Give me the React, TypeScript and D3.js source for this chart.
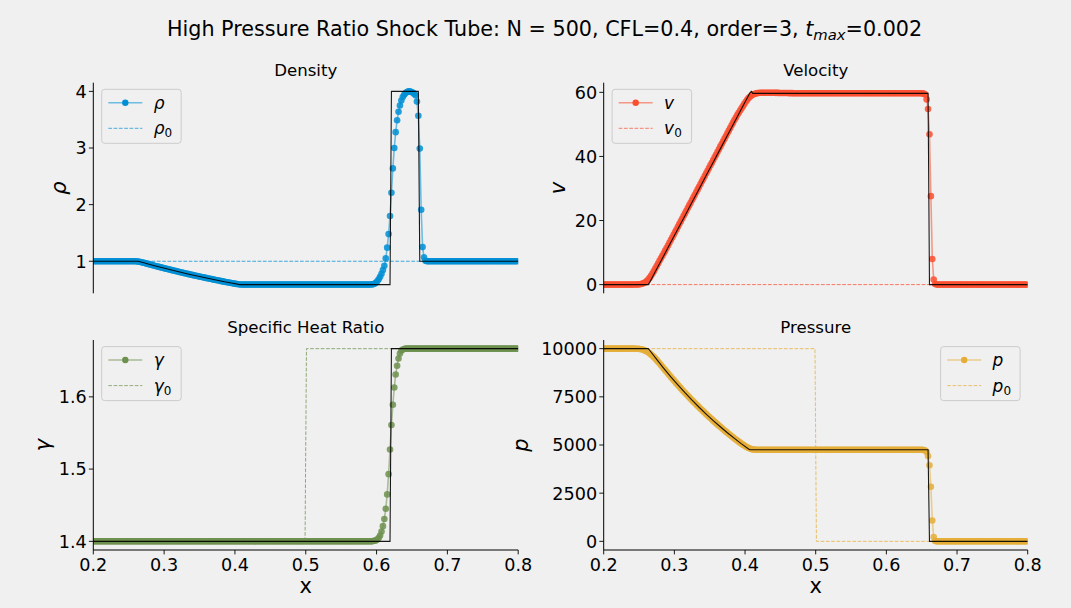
import React from 'react';
import * as d3 from 'd3';

// ---------------------------------------------------------------------------
// Grid: N = 500 cells on [0, 1]; cells 100..399 cover the plotted window.
// ---------------------------------------------------------------------------
const N = 500;
const FIRST_CELL = 100;
const X_RANGE: [number, number] = [0.2, 0.8];
const X_TICKS = [0.2, 0.3, 0.4, 0.5, 0.6, 0.7, 0.8];

// Numerical solution at the cell centres (each row holds 10 cells).
const density = [
  1, 1, 1, 1, 1, 1, 1, 1, 1, 1,
  1, 1, 1, 1, 1, 1, 1, 1, 1, 1,
  1, 1, 1, 1, 1, 1, 1, 1, 1, 0.999,
  0.998, 0.996, 0.992, 0.986, 0.980, 0.973, 0.967, 0.960, 0.953, 0.946,
  0.940, 0.933, 0.926, 0.920, 0.913, 0.906, 0.900, 0.893, 0.887, 0.881,
  0.874, 0.868, 0.862, 0.856, 0.849, 0.843, 0.837, 0.831, 0.825, 0.819,
  0.813, 0.807, 0.801, 0.795, 0.789, 0.784, 0.778, 0.772, 0.766, 0.761,
  0.755, 0.749, 0.744, 0.738, 0.733, 0.727, 0.722, 0.716, 0.711, 0.706,
  0.700, 0.695, 0.690, 0.685, 0.680, 0.674, 0.669, 0.664, 0.659, 0.654,
  0.649, 0.644, 0.639, 0.634, 0.629, 0.625, 0.620, 0.615, 0.610, 0.605,
  0.601, 0.597, 0.593, 0.590, 0.589, 0.588, 0.588, 0.588, 0.588, 0.588,
  0.588, 0.588, 0.588, 0.588, 0.588, 0.588, 0.588, 0.588, 0.588, 0.588,
  0.588, 0.588, 0.588, 0.588, 0.588, 0.588, 0.588, 0.588, 0.588, 0.588,
  0.588, 0.588, 0.588, 0.588, 0.588, 0.588, 0.588, 0.588, 0.588, 0.588,
  0.588, 0.588, 0.588, 0.588, 0.588, 0.588, 0.588, 0.588, 0.588, 0.588,
  0.588, 0.588, 0.588, 0.588, 0.588, 0.588, 0.588, 0.588, 0.588, 0.588,
  0.588, 0.588, 0.588, 0.588, 0.588, 0.588, 0.588, 0.588, 0.588, 0.588,
  0.588, 0.588, 0.588, 0.588, 0.588, 0.588, 0.588, 0.588, 0.588, 0.588,
  0.588, 0.588, 0.588, 0.588, 0.588, 0.588, 0.588, 0.588, 0.588, 0.588,
  0.588, 0.588, 0.588, 0.588, 0.588, 0.589, 0.591, 0.595, 0.604, 0.620,
  0.645, 0.680, 0.725, 0.780, 0.845, 0.920, 1.05, 1.24, 1.48, 1.80,
  2.21, 2.64, 3.00, 3.28, 3.49, 3.64, 3.75, 3.84, 3.90, 3.94,
  3.97, 3.99, 4.00, 4.00, 3.99, 3.98, 3.96, 3.93, 3.82, 3.57,
  2.99, 1.91, 1.25, 1.07, 1.01, 1, 1, 1, 1, 1,
  1, 1, 1, 1, 1, 1, 1, 1, 1, 1,
  1, 1, 1, 1, 1, 1, 1, 1, 1, 1,
  1, 1, 1, 1, 1, 1, 1, 1, 1, 1,
  1, 1, 1, 1, 1, 1, 1, 1, 1, 1,
  1, 1, 1, 1, 1, 1, 1, 1, 1, 1,
  1, 1, 1, 1, 1, 1, 1, 1, 1, 1,
];

const velocity = [
  0, 0, 0, 0, 0, 0, 0, 0, 0, 0,
  0, 0, 0, 0, 0, 0, 0, 0, 0, 0,
  0, 0.01, 0.02, 0.04, 0.07, 0.12, 0.2, 0.32, 0.5, 0.75,
  1.1, 1.55, 2.1, 2.75, 3.45, 4.2, 5.0, 5.8, 6.6, 7.45,
  8.2, 9.0, 9.8, 10.6, 11.4, 12.2, 13.05, 13.9, 14.72, 15.55,
  16.39, 17.22, 18.05, 18.89, 19.72, 20.55, 21.39, 22.22, 23.05, 23.89,
  24.72, 25.55, 26.39, 27.22, 28.05, 28.89, 29.72, 30.55, 31.39, 32.22,
  33.05, 33.89, 34.72, 35.55, 36.39, 37.22, 38.05, 38.89, 39.72, 40.55,
  41.39, 42.22, 43.05, 43.89, 44.72, 45.55, 46.39, 47.22, 48.05, 48.89,
  49.72, 50.55, 51.39, 52.1, 52.9, 53.6, 54.3, 55.0, 55.7, 56.4,
  57.05, 57.65, 58.2, 58.65, 59.0, 59.3, 59.5, 59.65, 59.75, 59.82,
  59.86, 59.88, 59.9, 59.9, 59.9, 59.9, 59.9, 59.9, 59.88, 59.88,
  59.86, 59.85, 59.84, 59.83, 59.82, 59.81, 59.8, 59.8, 59.79, 59.78,
  59.77, 59.76, 59.75, 59.75, 59.74, 59.74, 59.73, 59.73, 59.72, 59.72,
  59.7, 59.7, 59.7, 59.7, 59.7, 59.7, 59.7, 59.7, 59.7, 59.7,
  59.7, 59.7, 59.7, 59.7, 59.7, 59.7, 59.7, 59.7, 59.7, 59.7,
  59.7, 59.7, 59.7, 59.7, 59.7, 59.7, 59.7, 59.7, 59.7, 59.7,
  59.7, 59.7, 59.7, 59.7, 59.7, 59.7, 59.7, 59.7, 59.7, 59.7,
  59.7, 59.7, 59.7, 59.7, 59.7, 59.7, 59.7, 59.7, 59.7, 59.7,
  59.7, 59.7, 59.7, 59.7, 59.7, 59.7, 59.7, 59.7, 59.7, 59.7,
  59.7, 59.7, 59.7, 59.7, 59.7, 59.7, 59.7, 59.7, 59.7, 59.7,
  59.7, 59.7, 59.7, 59.7, 59.7, 59.7, 59.7, 59.7, 59.7, 59.7,
  59.7, 59.7, 59.7, 59.7, 59.7, 59.68, 59.6, 59.3, 57.8, 54.8,
  46.9, 27.6, 8.0, 1.6, 0.2, 0, 0, 0, 0, 0,
  0, 0, 0, 0, 0, 0, 0, 0, 0, 0,
  0, 0, 0, 0, 0, 0, 0, 0, 0, 0,
  0, 0, 0, 0, 0, 0, 0, 0, 0, 0,
  0, 0, 0, 0, 0, 0, 0, 0, 0, 0,
  0, 0, 0, 0, 0, 0, 0, 0, 0, 0,
  0, 0, 0, 0, 0, 0, 0, 0, 0, 0,
];

const heatRatio = [
  1.4, 1.4, 1.4, 1.4, 1.4, 1.4, 1.4, 1.4, 1.4, 1.4,
  1.4, 1.4, 1.4, 1.4, 1.4, 1.4, 1.4, 1.4, 1.4, 1.4,
  1.4, 1.4, 1.4, 1.4, 1.4, 1.4, 1.4, 1.4, 1.4, 1.4,
  1.4, 1.4, 1.4, 1.4, 1.4, 1.4, 1.4, 1.4, 1.4, 1.4,
  1.4, 1.4, 1.4, 1.4, 1.4, 1.4, 1.4, 1.4, 1.4, 1.4,
  1.4, 1.4, 1.4, 1.4, 1.4, 1.4, 1.4, 1.4, 1.4, 1.4,
  1.4, 1.4, 1.4, 1.4, 1.4, 1.4, 1.4, 1.4, 1.4, 1.4,
  1.4, 1.4, 1.4, 1.4, 1.4, 1.4, 1.4, 1.4, 1.4, 1.4,
  1.4, 1.4, 1.4, 1.4, 1.4, 1.4, 1.4, 1.4, 1.4, 1.4,
  1.4, 1.4, 1.4, 1.4, 1.4, 1.4, 1.4, 1.4, 1.4, 1.4,
  1.4, 1.4, 1.4, 1.4, 1.4, 1.4, 1.4, 1.4, 1.4, 1.4,
  1.4, 1.4, 1.4, 1.4, 1.4, 1.4, 1.4, 1.4, 1.4, 1.4,
  1.4, 1.4, 1.4, 1.4, 1.4, 1.4, 1.4, 1.4, 1.4, 1.4,
  1.4, 1.4, 1.4, 1.4, 1.4, 1.4, 1.4, 1.4, 1.4, 1.4,
  1.4, 1.4, 1.4, 1.4, 1.4, 1.4, 1.4, 1.4, 1.4, 1.4,
  1.4, 1.4, 1.4, 1.4, 1.4, 1.4, 1.4, 1.4, 1.4, 1.4,
  1.4, 1.4, 1.4, 1.4, 1.4, 1.4, 1.4, 1.4, 1.4, 1.4,
  1.4, 1.4, 1.4, 1.4, 1.4, 1.4, 1.4, 1.4, 1.4, 1.4,
  1.4, 1.4, 1.4, 1.4, 1.4, 1.4, 1.4, 1.4, 1.4, 1.4,
  1.4, 1.4, 1.4, 1.4, 1.4, 1.4, 1.4, 1.4003, 1.4007, 1.4013,
  1.4025, 1.4045, 1.408, 1.4135, 1.421, 1.431, 1.445, 1.465, 1.493, 1.527,
  1.561, 1.589, 1.613, 1.631, 1.643, 1.653, 1.660, 1.664, 1.6655, 1.6662,
  1.6667, 1.6667, 1.6667, 1.6667, 1.6667, 1.6667, 1.6667, 1.6667, 1.6667, 1.6667,
  1.6667, 1.6667, 1.6667, 1.6667, 1.6667, 1.6667, 1.6667, 1.6667, 1.6667, 1.6667,
  1.6667, 1.6667, 1.6667, 1.6667, 1.6667, 1.6667, 1.6667, 1.6667, 1.6667, 1.6667,
  1.6667, 1.6667, 1.6667, 1.6667, 1.6667, 1.6667, 1.6667, 1.6667, 1.6667, 1.6667,
  1.6667, 1.6667, 1.6667, 1.6667, 1.6667, 1.6667, 1.6667, 1.6667, 1.6667, 1.6667,
  1.6667, 1.6667, 1.6667, 1.6667, 1.6667, 1.6667, 1.6667, 1.6667, 1.6667, 1.6667,
  1.6667, 1.6667, 1.6667, 1.6667, 1.6667, 1.6667, 1.6667, 1.6667, 1.6667, 1.6667,
  1.6667, 1.6667, 1.6667, 1.6667, 1.6667, 1.6667, 1.6667, 1.6667, 1.6667, 1.6667,
];

const pressure = [
  10000, 10000, 10000, 10000, 10000, 10000, 10000, 10000, 10000, 10000,
  10000, 10000, 10000, 10000, 10000, 10000, 10000, 10000, 10000, 10000,
  10000, 10000, 9998, 9995, 9990, 9982, 9970, 9952, 9927, 9895,
  9855, 9808, 9755, 9695, 9630, 9560, 9485, 9405, 9322, 9237,
  9150, 9062, 8973, 8885, 8797, 8710, 8622, 8535, 8450, 8366,
  8282, 8198, 8114, 8033, 7952, 7871, 7791, 7710, 7632, 7555,
  7478, 7401, 7324, 7250, 7176, 7102, 7029, 6955, 6884, 6813,
  6743, 6672, 6602, 6534, 6466, 6399, 6331, 6263, 6199, 6134,
  6070, 6005, 5941, 5879, 5817, 5756, 5694, 5632, 5573, 5514,
  5455, 5397, 5339, 5284, 5229, 5175, 5121, 5068, 5017, 4968,
  4922, 4880, 4843, 4812, 4788, 4772, 4762, 4756, 4753, 4751,
  4750, 4750, 4750, 4750, 4750, 4750, 4750, 4750, 4750, 4750,
  4750, 4750, 4750, 4750, 4750, 4750, 4750, 4750, 4750, 4750,
  4750, 4750, 4750, 4750, 4750, 4750, 4750, 4750, 4750, 4750,
  4750, 4750, 4750, 4750, 4750, 4750, 4750, 4750, 4750, 4750,
  4750, 4750, 4750, 4750, 4750, 4750, 4750, 4750, 4750, 4750,
  4750, 4750, 4750, 4750, 4750, 4750, 4750, 4750, 4750, 4750,
  4750, 4750, 4750, 4750, 4750, 4750, 4750, 4750, 4750, 4750,
  4750, 4750, 4750, 4750, 4750, 4750, 4750, 4750, 4750, 4750,
  4750, 4750, 4750, 4750, 4750, 4750, 4750, 4750, 4750, 4750,
  4750, 4750, 4750, 4750, 4750, 4750, 4750, 4750, 4750, 4750,
  4750, 4750, 4750, 4750, 4750, 4750, 4750, 4750, 4750, 4750,
  4750, 4750, 4750, 4750, 4750, 4748, 4740, 4712, 4640, 4425,
  3945, 2830, 1081, 223, 20, 0, 0, 0, 0, 0,
  0, 0, 0, 0, 0, 0, 0, 0, 0, 0,
  0, 0, 0, 0, 0, 0, 0, 0, 0, 0,
  0, 0, 0, 0, 0, 0, 0, 0, 0, 0,
  0, 0, 0, 0, 0, 0, 0, 0, 0, 0,
  0, 0, 0, 0, 0, 0, 0, 0, 0, 0,
  0, 0, 0, 0, 0, 0, 0, 0, 0, 0,
];

// Exact Riemann solution (rarefaction fan, contact, shock).
const exactX = [
  0.2, 0.263,
  0.265, 0.275, 0.285, 0.295, 0.305, 0.315, 0.325, 0.335,
  0.345, 0.355, 0.365, 0.375, 0.385, 0.395, 0.405,
  0.407, 0.409, 0.411, 0.619, 0.621, 0.659, 0.661, 0.8,
];
const exactDensity = [
  1, 1,
  0.9942, 0.9597, 0.9260, 0.8934, 0.8617, 0.8309, 0.8010, 0.7719,
  0.7437, 0.7163, 0.6898, 0.6640, 0.6390, 0.6148, 0.5913,
  0.5876, 0.5876, 0.5876, 0.5876, 4.0, 4.0, 1, 1,
];
const exactVelocity = [
  0, 0,
  0.687, 4.853, 9.02, 13.19, 17.36, 21.52, 25.69, 29.86,
  34.02, 38.19, 42.36, 46.52, 50.69, 54.86, 59.02,
  59.85, 60.3, 59.69, 59.69, 59.69, 59.69, 0, 0,
];
const exactHeatRatio = [
  1.4, 1.4,
  1.4, 1.4, 1.4, 1.4, 1.4, 1.4, 1.4, 1.4,
  1.4, 1.4, 1.4, 1.4, 1.4, 1.4, 1.4,
  1.4, 1.4, 1.4, 1.4, 1.6667, 1.6667, 1.6667, 1.6667,
];
const exactPressure = [
  10000, 10000,
  9919, 9440, 8980, 8540, 8119, 7715, 7329, 6960,
  6607, 6268, 5946, 5637, 5342, 5060, 4792,
  4750, 4750, 4750, 4750, 4750, 4750, 0, 0,
];

// Initial state (diaphragm at x = 0.5).
const initX = [0.2, 0.499, 0.501, 0.8];
const initDensity = [1, 1, 1, 1];
const initVelocity = [0, 0, 0, 0];
const initHeatRatio = [1.4, 1.4, 1.6667, 1.6667];
const initPressure = [10000, 10000, 0, 0];

const densityTicks = [1, 2, 3, 4];
const velocityTicks = [0, 20, 40, 60];
const heatRatioTicks = [1.4, 1.5, 1.6];
const pressureTicks = [0, 2500, 5000, 7500, 10000];

// ---------------------------------------------------------------------------
const W = 1071;
const H = 608;
const BG = '#f0f0f0';
const FONT = '"DejaVu Sans", "Liberation Sans", sans-serif';
const TICK_FS = 17.6;
const Y_PAD = 0.045;

type Box = { left: number; right: number; top: number; bottom: number };

type PanelSpec = {
  id: string;
  title: string;
  sym: string;
  color: string;
  values: number[];
  exact: number[];
  init: number[];
  ticks: number[];
  box: Box;
  showX: boolean;
  legendRight: boolean;
  labelOffset: number;
};

const COL_L = { left: 93.3, right: 518.2 };
const COL_R = { left: 603.7, right: 1027.7 };
const ROW_T = { top: 82.7, bottom: 293.3 };
const ROW_B = { top: 340, bottom: 550 };

const panels: PanelSpec[] = [
  {
    id: 'rho', title: 'Density', sym: 'ρ', color: '#008fd5',
    values: density, exact: exactDensity, init: initDensity, ticks: densityTicks,
    box: { ...COL_L, ...ROW_T }, showX: false, legendRight: false, labelOffset: 27.3,
  },
  {
    id: 'vel', title: 'Velocity', sym: 'v', color: '#fc4f30',
    values: velocity, exact: exactVelocity, init: initVelocity, ticks: velocityTicks,
    box: { ...COL_R, ...ROW_T }, showX: false, legendRight: false, labelOffset: 38.7,
  },
  {
    id: 'gam', title: 'Specific Heat Ratio', sym: 'γ', color: '#6d904f',
    values: heatRatio, exact: exactHeatRatio, init: initHeatRatio, ticks: heatRatioTicks,
    box: { ...COL_L, ...ROW_B }, showX: true, legendRight: false, labelOffset: 43.8,
  },
  {
    id: 'prs', title: 'Pressure', sym: 'p', color: '#e5ae38',
    values: pressure, exact: exactPressure, init: initPressure, ticks: pressureTicks,
    box: { ...COL_R, ...ROW_B }, showX: true, legendRight: true, labelOffset: 76.1,
  },
];

type Pt = [number, number];

function Legend({ spec }: { spec: PanelSpec }) {
  const w = 79.5;
  const h = 54;
  const left = spec.legendRight ? spec.box.right - 7.6 - w : spec.box.left + 8.4;
  const top = spec.box.top + 6.6;
  const rows = [top + 13.4, top + 39];
  const hx0 = left + 6.6;
  const hx1 = left + 40.6;
  const tx = left + 52;
  return (
    <g>
      <rect x={left} y={top} width={w} height={h} rx={3} ry={3}
        fill={BG} fillOpacity={0.8} stroke="#cccccc" strokeWidth={1} />
      <line x1={hx0} x2={hx1} y1={rows[0]} y2={rows[0]} stroke={spec.color}
        strokeOpacity={0.55} strokeWidth={1.6} />
      <circle cx={(hx0 + hx1) / 2} cy={rows[0]} r={3.2} fill={spec.color} />
      <line x1={hx0} x2={hx1} y1={rows[1]} y2={rows[1]} stroke={spec.color}
        strokeOpacity={0.7} strokeWidth={1} strokeDasharray="3.7,1.6" />
      <text x={tx} y={rows[0] + 6} fontSize={17} fontFamily={FONT} fontStyle="italic" fill="#000">
        {spec.sym}
      </text>
      <text x={tx} y={rows[1] + 6} fontSize={17} fontFamily={FONT} fill="#000">
        <tspan fontStyle="italic">{spec.sym}</tspan>
        <tspan fontSize={12} dy={3}>0</tspan>
      </text>
    </g>
  );
}

function Panel({ spec }: { spec: PanelSpec }) {
  const { box } = spec;
  const x = d3.scaleLinear().domain(X_RANGE).range([box.left, box.right]);
  const all = [...spec.values, ...spec.exact, ...spec.init];
  const lo = d3.min(all) as number;
  const hi = d3.max(all) as number;
  const pad = (hi - lo) * Y_PAD;
  const y = d3.scaleLinear().domain([lo - pad, hi + pad]).range([box.bottom, box.top]);

  const line = d3.line<Pt>().x((d) => x(d[0])).y((d) => y(d[1]));
  const cells: Pt[] = spec.values.map((v, k) => [(FIRST_CELL + k + 0.5) / N, v]);
  const exactPts: Pt[] = exactX.map((xv, i) => [xv, spec.exact[i]]);
  const initPts: Pt[] = initX.map((xv, i) => [xv, spec.init[i]]);
  const clipId = `clip-${spec.id}`;
  const midX = (box.left + box.right) / 2;
  const midY = (box.top + box.bottom) / 2;
  const tickLen = 4.4;

  return (
    <g>
      <defs>
        <clipPath id={clipId}>
          <rect x={box.left} y={box.top} width={box.right - box.left} height={box.bottom - box.top} />
        </clipPath>
      </defs>

      <g clipPath={`url(#${clipId})`}>
        <path d={line(cells) ?? ''} fill="none" stroke={spec.color}
          strokeOpacity={0.55} strokeWidth={1.6} />
        {cells.map((d, i) => (
          <circle key={i} cx={x(d[0])} cy={y(d[1])} r={3.3} fill={spec.color} fillOpacity={0.85} />
        ))}
        <path d={line(initPts) ?? ''} fill="none" stroke={spec.color}
          strokeOpacity={0.75} strokeWidth={1} strokeDasharray="3.7,1.6" />
        <path d={line(exactPts) ?? ''} fill="none" stroke="#000"
          strokeOpacity={0.9} strokeWidth={1.1} />
      </g>

      {/* left spine and y ticks */}
      <line x1={box.left} x2={box.left} y1={box.top} y2={box.bottom} stroke="#000" strokeWidth={1} />
      {spec.ticks.map((t) => (
        <g key={t}>
          <line x1={box.left - tickLen} x2={box.left} y1={y(t)} y2={y(t)} stroke="#000" strokeWidth={0.9} />
          <text x={box.left - tickLen - 2.2} y={y(t)} dy="0.36em" textAnchor="end"
            fontSize={TICK_FS} fontFamily={FONT} fill="#000">{String(t)}</text>
        </g>
      ))}

      {/* bottom spine and x ticks */}
      {spec.showX && (
        <g>
          <line x1={box.left} x2={box.right} y1={box.bottom} y2={box.bottom} stroke="#000" strokeWidth={1} />
          {X_TICKS.map((t) => (
            <g key={t}>
              <line x1={x(t)} x2={x(t)} y1={box.bottom} y2={box.bottom + tickLen} stroke="#000" strokeWidth={0.9} />
              <text x={x(t)} y={box.bottom + 20.5} textAnchor="middle"
                fontSize={TICK_FS} fontFamily={FONT} fill="#000">{String(t)}</text>
            </g>
          ))}
          <text x={midX} y={box.bottom + 43.3} textAnchor="middle" fontSize={21}
            fontFamily={FONT} fill="#000">x</text>
        </g>
      )}

      {/* y label */}
      <text transform={`translate(${box.left - spec.labelOffset},${midY}) rotate(-90)`}
        textAnchor="middle" fontSize={21} fontFamily={FONT} fontStyle="italic" fill="#000">
        {spec.sym}
      </text>

      {/* title */}
      <text x={midX} y={box.top - 6.7} textAnchor="middle" fontSize={16.6}
        fontFamily={FONT} fill="#000">{spec.title}</text>

      <Legend spec={spec} />
    </g>
  );
}

export default function App() {
  return (
    <div style={{ position: 'fixed', left: 0, top: 0, width: W, height: H, background: BG }}>
      <svg width={W} height={H} viewBox={`0 0 ${W} ${H}`} style={{ display: 'block' }}>
        <rect x={0} y={0} width={W} height={H} fill={BG} />
        <text x={167} y={36} fontSize={20.7} fontFamily={FONT} fill="#000">
          High Pressure Ratio Shock Tube: N = 500, CFL=0.4, order=3,{' '}
          <tspan fontStyle="italic">t</tspan>
          <tspan fontStyle="italic" fontSize={14.8} dy={4}>max</tspan>
          <tspan dy={-4}>=0.002</tspan>
        </text>
        {panels.map((p) => (
          <Panel key={p.id} spec={p} />
        ))}
      </svg>
    </div>
  );
}
